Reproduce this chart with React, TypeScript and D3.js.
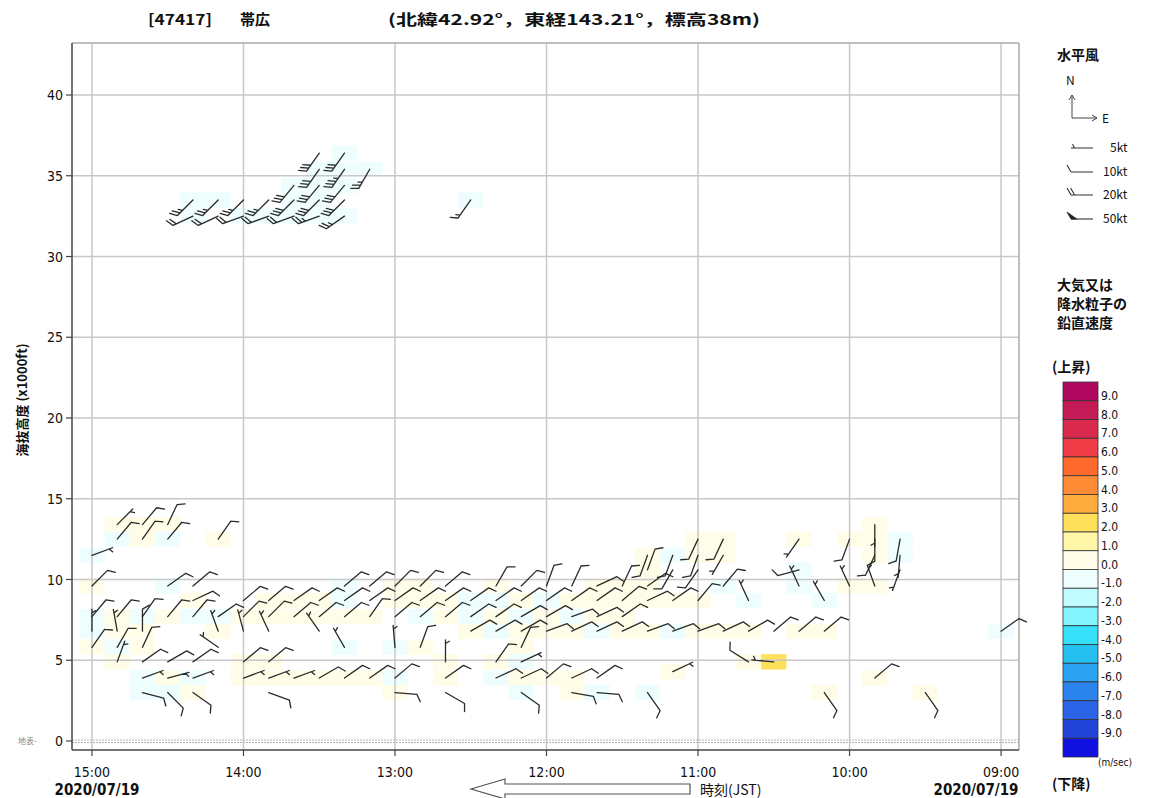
import React from "react";
import { scaleLinear } from "d3";

// 帯広 ウィンドプロファイラ 2020/07/19 09:00-15:00
const hourTicks = ["15:00", "14:00", "13:00", "12:00", "11:00", "10:00", "09:00"];
const heightTicks = [0, 5, 10, 15, 20, 25, 30, 35, 40];

// [time, height(x1000ft), direction(deg), speed(kt), vertical speed(m/s) | null]
type Wind = [string, number, number, number, number | null];

const upperWinds: Wind[] = [
  ["14:20", 33.5, 225, 25, -0.5], ["14:20", 32.5, 245, 20, -0.5],
  ["14:10", 33.5, 225, 25, -0.5], ["14:10", 32.5, 245, 20, null],
  ["14:00", 33.5, 225, 25, null], ["14:00", 32.5, 250, 20, -0.5],
  ["13:50", 33.5, 225, 25, null], ["13:50", 32.5, 250, 20, -0.5],
  ["13:40", 34.4, 220, 30, -0.5], ["13:40", 33.5, 225, 30, -0.5], ["13:40", 32.5, 250, 20, -0.5],
  ["13:30", 36.4, 215, 30, null], ["13:30", 35.4, 215, 30, -0.5], ["13:30", 34.4, 220, 30, -0.5],
  ["13:30", 33.5, 225, 30, -0.5], ["13:30", 32.5, 250, 25, -0.5],
  ["13:20", 36.4, 215, 30, -0.5], ["13:20", 35.4, 215, 35, -0.5], ["13:20", 34.4, 220, 30, -0.5],
  ["13:20", 33.5, 225, 30, null], ["13:20", 32.5, 235, 25, -0.5],
  ["13:10", 35.4, 210, 25, -0.5],
  ["12:30", 33.5, 215, 15, -0.5],
];

const lowerWinds: Wind[] = [
  ["15:00", 11.5, 70, 5, -0.5], ["15:00", 9.6, 45, 10, 0.5], ["15:00", 7.7, 40, 10, -0.5],
  ["15:00", 6.8, 0, 5, -0.5], ["15:00", 5.8, 35, 10, 0.5],
  ["14:50", 13.4, 45, 5, 0.5], ["14:50", 12.5, 40, 10, -0.5], ["14:50", 7.7, 40, 10, 0.5],
  ["14:50", 6.8, 350, 5, 0.5], ["14:50", 5.8, 30, 10, -0.5], ["14:50", 4.9, 20, 5, 0.5],
  ["14:40", 13.4, 40, 10, 0.5], ["14:40", 12.5, 35, 10, 0.5], ["14:40", 7.7, 35, 10, -0.5],
  ["14:40", 6.8, 0, 10, 0.5], ["14:40", 5.8, 25, 10, 0.5], ["14:40", 4.9, 55, 10, null],
  ["14:40", 3.9, 70, 5, -0.5], ["14:40", 3.0, 105, 10, -0.5],
  ["14:30", 13.4, 25, 10, 0.5], ["14:30", 12.5, 40, 10, -0.5], ["14:30", 9.6, 55, 10, -0.5],
  ["14:30", 7.7, 40, 10, 0.5], ["14:30", 4.9, 60, 10, null], ["14:30", 3.9, 75, 5, 0.5],
  ["14:30", 3.0, 135, 10, -0.5],
  ["14:20", 9.6, 50, 10, null], ["14:20", 8.7, 65, 10, 0.5], ["14:20", 7.7, 40, 10, -0.5],
  ["14:20", 4.9, 55, 10, null], ["14:20", 3.9, 70, 5, -0.5], ["14:20", 3.0, 125, 10, 0.5],
  ["14:10", 12.5, 35, 10, 0.5], ["14:10", 7.7, 55, 10, -0.5], ["14:10", 6.8, 340, 5, 0.5],
  ["14:10", 5.8, 305, 5, null],
  ["14:00", 8.7, 50, 10, null], ["14:00", 7.7, 45, 10, 0.5], ["14:00", 6.8, 345, 5, null],
  ["14:00", 4.9, 50, 10, 0.5], ["14:00", 3.9, 70, 5, 0.5],
  ["13:50", 8.7, 50, 10, 0.5], ["13:50", 7.7, 45, 10, 0.5], ["13:50", 6.8, 335, 5, null],
  ["13:50", 4.9, 50, 10, 0.5], ["13:50", 3.9, 70, 5, 0.5], ["13:50", 3.0, 110, 10, null],
  ["13:40", 8.7, 55, 10, 0.5], ["13:40", 7.7, 50, 10, 0.5], ["13:40", 3.9, 70, 5, 0.5],
  ["13:30", 8.7, 55, 10, 0.5], ["13:30", 7.7, 50, 10, 0.5], ["13:30", 6.8, 325, 5, null],
  ["13:30", 3.9, 60, 10, 0.5],
  ["13:20", 9.6, 50, 10, -0.5], ["13:20", 8.7, 55, 10, -0.5], ["13:20", 7.7, 50, 10, 0.5],
  ["13:20", 5.8, 330, 5, -0.5], ["13:20", 3.9, 55, 10, 0.5],
  ["13:10", 9.6, 50, 10, null], ["13:10", 8.7, 55, 10, null], ["13:10", 7.7, 35, 10, 0.5],
  ["13:10", 3.9, 55, 10, 0.5],
  ["13:00", 9.6, 45, 10, 0.5], ["13:00", 8.7, 55, 10, 0.5], ["13:00", 7.7, 50, 10, null],
  ["13:00", 5.8, 355, 5, -0.5], ["13:00", 3.9, 50, 10, -0.5], ["13:00", 3.0, 95, 10, 0.5],
  ["12:50", 9.6, 45, 10, 0.5], ["12:50", 8.7, 55, 10, 0.5], ["12:50", 7.7, 50, 10, -0.5],
  ["12:50", 5.8, 20, 10, 0.5],
  ["12:40", 9.6, 50, 10, null], ["12:40", 8.7, 55, 10, 0.5], ["12:40", 7.7, 50, 10, 0.5],
  ["12:40", 4.9, 0, 5, 0.5], ["12:40", 3.9, 55, 10, 0.5], ["12:40", 3.0, 120, 10, null],
  ["12:30", 8.7, 55, 10, -0.5], ["12:30", 7.7, 55, 10, -0.5], ["12:30", 6.8, 60, 10, 0.5],
  ["12:20", 9.6, 30, 10, 0.5], ["12:20", 8.7, 55, 10, -0.5], ["12:20", 7.7, 55, 10, 0.5],
  ["12:20", 6.8, 60, 10, -0.5], ["12:20", 4.9, 35, 10, 0.5], ["12:20", 3.9, 65, 10, -0.5],
  ["12:10", 9.6, 45, 10, null], ["12:10", 8.7, 55, 10, 0.5], ["12:10", 7.7, 60, 10, -0.5],
  ["12:10", 6.8, 60, 10, 0.5], ["12:10", 5.8, 25, 10, 0.5], ["12:10", 4.9, 65, 5, -0.5],
  ["12:10", 3.9, 65, 10, 0.5], ["12:10", 3.0, 125, 10, -0.5],
  ["12:00", 9.6, 20, 10, null], ["12:00", 8.7, 55, 10, -0.5], ["12:00", 7.7, 60, 10, 0.5],
  ["12:00", 6.8, 70, 10, 0.5], ["12:00", 3.9, 50, 10, 0.5],
  ["11:50", 9.6, 25, 10, null], ["11:50", 8.7, 55, 10, 0.5], ["11:50", 7.7, 70, 10, -0.5],
  ["11:50", 6.8, 65, 10, 0.5], ["11:50", 3.9, 65, 10, 0.5], ["11:50", 3.0, 100, 10, 0.5],
  ["11:40", 9.6, 65, 10, 0.5], ["11:40", 8.7, 55, 10, 0.5], ["11:40", 7.7, 65, 10, 0.5],
  ["11:40", 6.8, 65, 10, -0.5], ["11:40", 3.9, 55, 10, null], ["11:40", 3.0, 95, 10, -0.5],
  ["11:30", 9.6, 25, 10, 0.5], ["11:30", 8.7, 50, 10, 0.5], ["11:30", 7.7, 55, 10, 0.5],
  ["11:30", 6.8, 65, 10, 0.5],
  ["11:20", 11.5, 200, 10, 0.5], ["11:20", 10.6, 20, 10, 0.5], ["11:20", 9.6, 55, 10, 0.5],
  ["11:20", 8.7, 65, 10, 0.5], ["11:20", 6.8, 70, 10, 0.5], ["11:20", 3.0, 145, 10, -0.5],
  ["11:10", 11.5, 200, 10, -0.5], ["11:10", 10.6, 210, 10, null], ["11:10", 8.7, 55, 10, 0.5],
  ["11:10", 6.8, 70, 10, -0.5], ["11:10", 4.3, 65, 5, 0.5],
  ["11:00", 12.5, 205, 10, 0.5], ["11:00", 11.5, 200, 10, 0.5], ["11:00", 10.6, 215, 10, null],
  ["11:00", 8.7, 40, 10, 0.5], ["11:00", 6.8, 70, 10, 0.5],
  ["10:50", 12.5, 205, 10, 0.5], ["10:50", 11.5, 210, 5, 0.5], ["10:50", 9.6, 40, 10, -0.5],
  ["10:50", 6.8, 65, 10, 0.5],
  ["10:40", 8.7, 335, 5, -0.5], ["10:40", 6.8, 60, 10, 0.5], ["10:40", 4.9, 302, 10, 0.5],
  ["10:30", 6.8, 50, 10, null], ["10:30", 4.9, 275, 5, 2.5],
  ["10:20", 12.5, 215, 5, 0.5], ["10:20", 10.6, 255, 10, -0.5], ["10:20", 9.6, 335, 5, -0.5],
  ["10:20", 6.8, 50, 10, 0.5],
  ["10:10", 8.7, 330, 5, -0.5], ["10:10", 6.8, 50, 10, 0.5], ["10:10", 3.0, 145, 10, 0.5],
  ["10:00", 12.5, 200, 10, 0.5], ["10:00", 9.6, 335, 5, 0.5],
  ["09:50", 13.4, 180, 5, 0.5], ["09:50", 12.5, 180, 10, 0.5], ["09:50", 11.5, 205, 10, 0.5],
  ["09:50", 9.6, 340, 5, 0.5], ["09:50", 3.9, 50, 10, 0.5],
  ["09:40", 12.5, 190, 10, -0.5], ["09:40", 11.5, 185, 5, -0.5], ["09:40", 10.6, 200, 5, null],
  ["09:30", 3.0, 145, 10, 0.5],
  ["09:00", 6.8, 55, 10, -0.5],
];

// colour bar, top (>9 m/s) to bottom (<-9 m/s)
const binColors = [
  "#b0085f", "#c41b57", "#d92a4e", "#ef3b46", "#ff6a2c", "#ff8c34", "#ffad3e", "#ffe05a",
  "#fff6a8", "#fffde8", "#eefeff", "#c0fbff", "#84f5ff", "#35e0f8", "#25bff0", "#2aa2f0",
  "#2b84ee", "#2b64e6", "#2043d6", "#1010e0",
];
const binLabels = [
  "9.0", "8.0", "7.0", "6.0", "5.0", "4.0", "3.0", "2.0", "1.0", "0.0",
  "-1.0", "-2.0", "-3.0", "-4.0", "-5.0", "-6.0", "-7.0", "-8.0", "-9.0",
];
const legendSpeeds = [5, 10, 20, 50];

const toMin = (t: string) => {
  const [h, m] = t.split(":").map(Number);
  return h * 60 + m;
};

const plot = { left: 72, right: 1019, top: 43, bottom: 750 };
const x = scaleLinear().domain([907.9, 532.9]).range([plot.left, plot.right]);
const y = scaleLinear().domain([0, 40]).range([741, 95]);

const colW = Math.abs(x(600) - x(610));
const gateH = y(0) - y(0.95);

const wColor = (w: number) => binColors[Math.max(0, Math.min(19, 9 - Math.floor(w)))];

function barb(x0: number, y0: number, dir: number, spd: number) {
  const L = 22, sp = 3.6, fl = 8;
  const r = (dir * Math.PI) / 180;
  const ux = Math.sin(r), uy = -Math.cos(r);
  const rb = ((dir + 60) * Math.PI) / 180;
  const bx = Math.sin(rb), by = -Math.cos(rb);
  const tx = x0 + ux * L, ty = y0 + uy * L;
  let p = `M${x0},${y0}L${tx},${ty}`;
  let fill = "";
  let n = Math.round(spd / 5) * 5;
  let pos = 0;
  while (n >= 50) {
    const px = tx - ux * pos, py = ty - uy * pos;
    fill += `M${px},${py}L${px + bx * fl},${py + by * fl}L${px - ux * sp * 1.6},${py - uy * sp * 1.6}Z`;
    pos += sp * 1.8;
    n -= 50;
  }
  while (n >= 10) {
    const px = tx - ux * pos, py = ty - uy * pos;
    p += `M${px},${py}l${bx * fl},${by * fl}`;
    pos += sp;
    n -= 10;
  }
  if (n >= 5) {
    if (pos === 0) pos = sp;
    const px = tx - ux * pos, py = ty - uy * pos;
    p += `M${px},${py}l${bx * fl * 0.55},${by * fl * 0.55}`;
  }
  return { p, fill };
}

const jp = "'Noto Sans CJK JP', sans-serif";
const narrow = "'Liberation Sans Narrow', 'DejaVu Sans Condensed', 'Noto Sans CJK JP', sans-serif";

export default function App() {
  const winds = [...upperWinds, ...lowerWinds];
  const barTop = 382, binH = 18.75;

  return (
    <svg width={1156} height={798} style={{ position: "absolute", left: 0, top: 0 }}>
      <rect width={1156} height={798} fill="#fff" />

      {/* title */}
      <g fontFamily={jp} fontWeight="bold" fontSize={15} fill="#111">
        <text x={148} y={25} textLength={64} lengthAdjust="spacingAndGlyphs">[47417]</text>
        <text x={240} y={25}>帯広</text>
        <text x={388} y={25} textLength={372} lengthAdjust="spacingAndGlyphs">
          (北緯42.92°，東経143.21°，標高38m)
        </text>
      </g>

      {/* vertical velocity cells */}
      <g>
        {winds.filter((d) => d[4] !== null).map((d, i) => (
          <rect
            key={`c${i}`}
            x={x(toMin(d[0])) - colW / 2}
            y={y(d[1]) - gateH / 2}
            width={colW}
            height={gateH}
            fill={wColor(d[4] as number)}
          />
        ))}
      </g>

      {/* grid */}
      <g stroke="#c8c8c8" strokeWidth={1.5}>
        {heightTicks.slice(1).map((h) => (
          <line key={h} x1={plot.left} x2={plot.right} y1={y(h)} y2={y(h)} />
        ))}
        {hourTicks.map((t) => (
          <line key={t} x1={x(toMin(t))} x2={x(toMin(t))} y1={plot.top} y2={plot.bottom} />
        ))}
      </g>
      <line x1={plot.left} x2={plot.right} y1={y(0) - 1} y2={y(0) - 1} stroke="#b5b5b5" strokeWidth={1} strokeDasharray="2 1" />
      <line x1={plot.left} x2={plot.right} y1={y(0) + 1.5} y2={y(0) + 1.5} stroke="#b5b5b5" strokeWidth={1} strokeDasharray="2 1" />

      {/* frame */}
      <line x1={plot.left} x2={plot.right} y1={plot.top} y2={plot.top} stroke="#aaa" strokeWidth={1.5} />
      <line x1={plot.right} x2={plot.right} y1={plot.top} y2={plot.bottom} stroke="#aaa" strokeWidth={1.5} />
      <line x1={plot.left} x2={plot.left} y1={plot.top} y2={plot.bottom} stroke="#444" strokeWidth={1.5} />
      <line x1={plot.left} x2={plot.right} y1={plot.bottom} y2={plot.bottom} stroke="#444" strokeWidth={1.5} />

      {/* wind barbs */}
      <g stroke="#2a2a2a" strokeWidth={1.3} fill="none" strokeLinecap="round">
        {winds.map((d, i) => {
          const b = barb(x(toMin(d[0])), y(d[1]), d[2], d[3]);
          return (
            <g key={`b${i}`}>
              <path d={b.p} />
              {b.fill && <path d={b.fill} fill="#2a2a2a" />}
            </g>
          );
        })}
      </g>

      {/* y axis */}
      <g fontFamily={narrow} fontSize={14} fill="#111" textAnchor="end">
        {heightTicks.map((h) => (
          <g key={h}>
            <line x1={66} x2={plot.left} y1={y(h)} y2={y(h)} stroke="#444" strokeWidth={1.2} />
            <text x={63} y={y(h) + 5}>{h}</text>
          </g>
        ))}
      </g>
      <text x={18} y={y(0) + 3} fontFamily={jp} fontSize={8} fill="#888">地表-</text>
      <text
        transform={`translate(27,400) rotate(-90)`}
        textAnchor="middle"
        fontFamily={jp}
        fontWeight="bold"
        fontSize={13}
        fill="#111"
      >
        海抜高度 (x1000ft)
      </text>

      {/* x axis */}
      <g fontFamily={narrow} fontSize={14} fill="#111" textAnchor="middle">
        {hourTicks.map((t) => (
          <g key={t}>
            <line x1={x(toMin(t))} x2={x(toMin(t))} y1={plot.bottom} y2={plot.bottom + 6} stroke="#444" strokeWidth={1.2} />
            <text x={x(toMin(t))} y={777}>{t}</text>
          </g>
        ))}
      </g>
      <g fontFamily={narrow} fontWeight="bold" fontSize={15} fill="#111" textAnchor="middle">
        <text x={97} y={795}>2020/07/19</text>
        <text x={976} y={795}>2020/07/19</text>
      </g>
      <path
        d="M471,789 L505,779 L505,784 L690,784 L690,794 L505,794 L505,799 Z"
        fill="#fff"
        stroke="#555"
        strokeWidth={1.2}
      />
      <text x={700} y={795} fontFamily={jp} fontSize={14} fill="#111">時刻(JST)</text>

      {/* wind legend */}
      <g fontFamily={jp} fill="#111">
        <text x={1057} y={60} fontSize={14} fontWeight="bold">水平風</text>
        <text x={1066} y={85} fontSize={12}>N</text>
        <path d="M1072,118 L1072,95 M1069,100 L1072,95 L1075,100 M1072,118 L1097,118 M1092,115 L1097,118 L1092,121" stroke="#444" strokeWidth={1} fill="none" />
        <text x={1102} y={123} fontSize={12}>E</text>
        {legendSpeeds.map((s, i) => {
          const yy = [148, 172, 195, 219][i];
          const b = barb(1093, yy, 270, s);
          return (
            <g key={s}>
              <path d={b.p} stroke="#333" strokeWidth={1.1} fill="none" />
              {b.fill && <path d={b.fill} fill="#222" stroke="#222" strokeWidth={0.8} />}
              <text x={s === 5 ? 1110 : 1103} y={yy + 4} fontSize={12}>{`${s}kt`}</text>
            </g>
          );
        })}
      </g>

      {/* colour bar */}
      <g fontFamily={jp} fill="#111">
        <text x={1057} y={290} fontSize={14} fontWeight="bold">大気又は</text>
        <text x={1057} y={309} fontSize={14} fontWeight="bold">降水粒子の</text>
        <text x={1057} y={328} fontSize={14} fontWeight="bold">鉛直速度</text>
        <text x={1052} y={372} fontSize={14} fontWeight="bold">(上昇)</text>
        <text x={1052} y={789} fontSize={14} fontWeight="bold">(下降)</text>
      </g>
      <g>
        {binColors.map((c, i) => (
          <rect key={c} x={1063} y={barTop + i * binH} width={35} height={binH} fill={c} stroke="#333" strokeWidth={0.8} />
        ))}
      </g>
      <g fontFamily={narrow} fontSize={12} fill="#111">
        {binLabels.map((l, i) => (
          <text key={l} x={1101} y={barTop + (i + 1) * binH - 1}>{l}</text>
        ))}
        <text x={1098} y={766} fontSize={10}>(m/sec)</text>
      </g>
    </svg>
  );
}
